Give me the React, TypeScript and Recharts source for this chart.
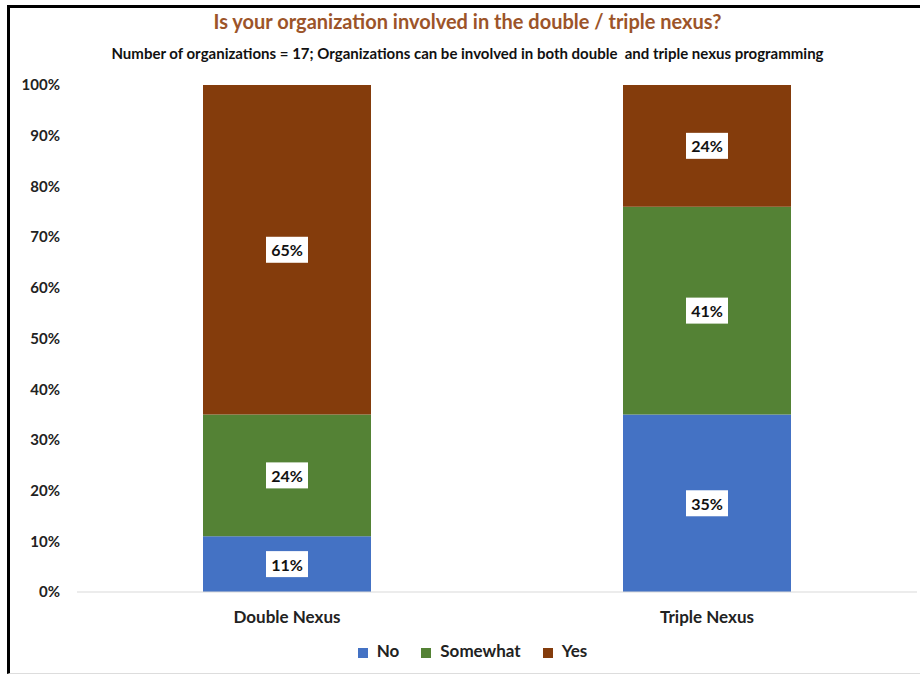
import React from 'react';
import { BarChart, Bar, XAxis, YAxis, Legend, LabelList } from 'recharts';

const categories = ['Double Nexus', 'Triple Nexus'];
const noValues = [11, 35];
const somewhatValues = [24, 41];
const yesValues = [65, 24];
const yTicks = [0, 10, 20, 30, 40, 50, 60, 70, 80, 90, 100];

const data = categories.map((name, i) => ({
  name,
  No: noValues[i],
  Somewhat: somewhatValues[i],
  Yes: yesValues[i],
}));

const FONT = 'Lato, "Open Sans", sans-serif';

// white box with the percentage, centred in each segment
const BoxLabel = (props: any) => {
  const { x, y, width, height, value } = props;
  const cx = x + width / 2;
  const cy = y + height / 2;
  return (
    <g>
      <rect x={cx - 21} y={cy - 13} width={42} height={26} fill="#fff" />
      <text x={cx} y={cy} textAnchor="middle" dominantBaseline="central"
        fontFamily={FONT} fontWeight={700} fontSize={16} fill="#111">
        {value}%
      </text>
    </g>
  );
};

export default function App() {
  return (
    <div style={{
      position: 'absolute', top: 5, left: 7, width: 913, height: 665, overflow: 'hidden',
      borderTop: '3px solid #000', borderLeft: '3px solid #000', borderBottom: '1px solid #ddd',
      background: '#fff', fontFamily: FONT,
    }}>
      <div style={{ position: 'absolute', top: 1, left: 0, width: 915, textAlign: 'center',
        fontSize: 20, fontWeight: 700, color: '#9c5429' }}>
        Is your organization involved in the double / triple nexus?
      </div>
      <div style={{ position: 'absolute', top: 36, left: 0, width: 915, textAlign: 'center',
        fontSize: 15, fontWeight: 700, color: '#111' }}>
        Number of organizations = 17; Organizations can be involved in both double&nbsp; and triple nexus programming
      </div>
      <BarChart width={909} height={669} data={data}
        margin={{ top: 77, right: 2, bottom: 0, left: 0 }} barCategoryGap="30%">
        <XAxis dataKey="name" tickLine={false} axisLine={{ stroke: '#d9d9d9' }}
          tickMargin={13} height={40}
          tick={{ fontFamily: FONT, fontWeight: 700, fontSize: 17, fill: '#222' }} />
        <YAxis domain={[0, 100]} ticks={yTicks} tickFormatter={(v) => `${v}%`}
          axisLine={false} tickLine={false} width={67} tickMargin={11}
          tick={{ fontFamily: FONT, fontWeight: 700, fontSize: 15, fill: '#222' }} />
        <Legend verticalAlign="bottom" height={37} iconType="square" iconSize={10}
          wrapperStyle={{ fontFamily: FONT, fontWeight: 700, fontSize: 17, paddingTop: 8, paddingLeft: 20 }}
          formatter={(v) => <span style={{ color: '#222', marginLeft: 5, marginRight: 12 }}>{v}</span>} />
        <Bar dataKey="No" stackId="a" fill="#4472c4" isAnimationActive={false}>
          <LabelList dataKey="No" content={BoxLabel} />
        </Bar>
        <Bar dataKey="Somewhat" stackId="a" fill="#548235" isAnimationActive={false}>
          <LabelList dataKey="Somewhat" content={BoxLabel} />
        </Bar>
        <Bar dataKey="Yes" stackId="a" fill="#843c0c" isAnimationActive={false}>
          <LabelList dataKey="Yes" content={BoxLabel} />
        </Bar>
      </BarChart>
    </div>
  );
}
